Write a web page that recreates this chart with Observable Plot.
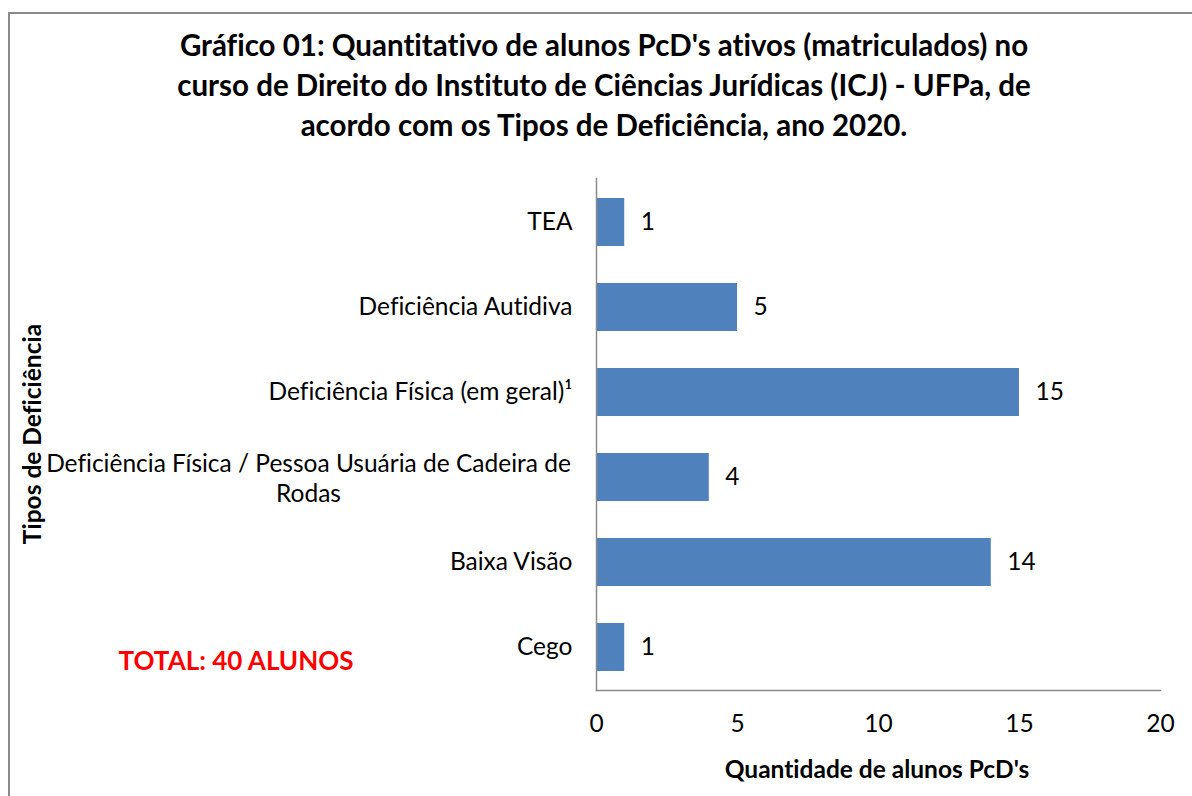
<!DOCTYPE html>
<html><head><meta charset="utf-8">
<script src="https://cdn.jsdelivr.net/npm/d3@7"></script>
<script src="https://cdn.jsdelivr.net/npm/@observablehq/plot@0.6"></script>
<style>
body{margin:0;background:#fff;font-family:Lato,"Open Sans",sans-serif;font-variant-ligatures:none;}
#wrap{position:relative;width:1192px;height:796px;overflow:hidden;}
#border{position:absolute;left:8px;top:12px;width:1200px;height:800px;border:2px solid #8a8a8a;box-sizing:border-box;}
#title{position:absolute;left:0;top:25px;width:1208px;text-align:center;font-weight:bold;font-size:29.5px;line-height:40px;color:#000;}
#chart{position:absolute;left:0;top:0;}
#chart svg text{font-variant-ligatures:none;}
#ytitle{position:absolute;left:31px;top:434px;transform:translate(-50%,-50%) rotate(-90deg);font-weight:bold;font-size:24.5px;white-space:nowrap;}
#xtitle{position:absolute;left:877px;top:768px;transform:translate(-50%,-50%);font-weight:bold;font-size:24.5px;white-space:nowrap;}
#total{position:absolute;left:236px;top:660px;transform:translate(-50%,-50%);font-weight:bold;font-size:26px;color:#ff0000;white-space:nowrap;}
</style></head>
<body>
<div id="wrap">
<div id="border"></div>
<div id="chart"></div>
<div id="title">Gráfico 01: Quantitativo de alunos PcD's ativos (matriculados) no<br>curso de Direito do Instituto de Ciências Jurídicas (ICJ) - UFPa, de<br>acordo com os Tipos de Deficiência, ano 2020.</div>
<div id="ytitle">Tipos de Deficiência</div>
<div id="xtitle">Quantidade de alunos PcD's</div>
<div id="total">TOTAL: 40 ALUNOS</div>
</div>
<script>
const categories = ["TEA", "Deficiência Autidiva", "Deficiência Física (em geral)¹", "Deficiência Física / Pessoa Usuária de Cadeira de Rodas", "Baixa Visão", "Cego"];
const values = [1, 5, 15, 4, 14, 1];
const xTicks = [0, 5, 10, 15, 20];
const longLabel = "Deficiência Física / Pessoa Usuária de Cadeira de Rodas";
const longLabelLines = "Deficiência Física / Pessoa Usuária de Cadeira de\nRodas";

const data = categories.map((c, i) => ({cat: c, value: values[i]}));
const fs = 24.5;

const chart = Plot.plot({
  width: 1192,
  height: 796,
  marginLeft: 596,
  marginRight: 32,
  marginTop: 178,
  marginBottom: 106,
  style: {fontFamily: "Lato, 'Open Sans', sans-serif", fontSize: fs + "px", color: "#000", background: "transparent"},
  x: {domain: [0, 20], axis: null},
  y: {domain: categories, paddingInner: 0.44, paddingOuter: 0.22, axis: null},
  marks: [
    Plot.barX(data, {x: "value", y: "cat", fill: "#4f81bd"}),
    Plot.text(data, {x: "value", y: "cat", text: d => String(d.value), textAnchor: "start", dx: 16, fill: "#000", fontSize: fs}),
    Plot.axisX(xTicks, {tickSize: 0, tickPadding: 24, fontSize: fs, fill: "#000", label: null}),
    Plot.axisY(categories.filter(c => c !== longLabel), {tickSize: 0, tickPadding: 24, fontSize: fs, fill: "#000", label: null}),
    Plot.axisY([longLabel], {tickSize: 0, tickPadding: 288, textAnchor: "middle", tickFormat: () => longLabelLines, lineHeight: 1.22, fontSize: fs, fill: "#000", label: null}),
    Plot.frame({anchor: "left", stroke: "#8a8a8a", strokeWidth: 1.5}),
    Plot.frame({anchor: "bottom", stroke: "#8a8a8a", strokeWidth: 1.5})
  ]
});
document.getElementById("chart").appendChild(chart);
</script>
</body></html>
